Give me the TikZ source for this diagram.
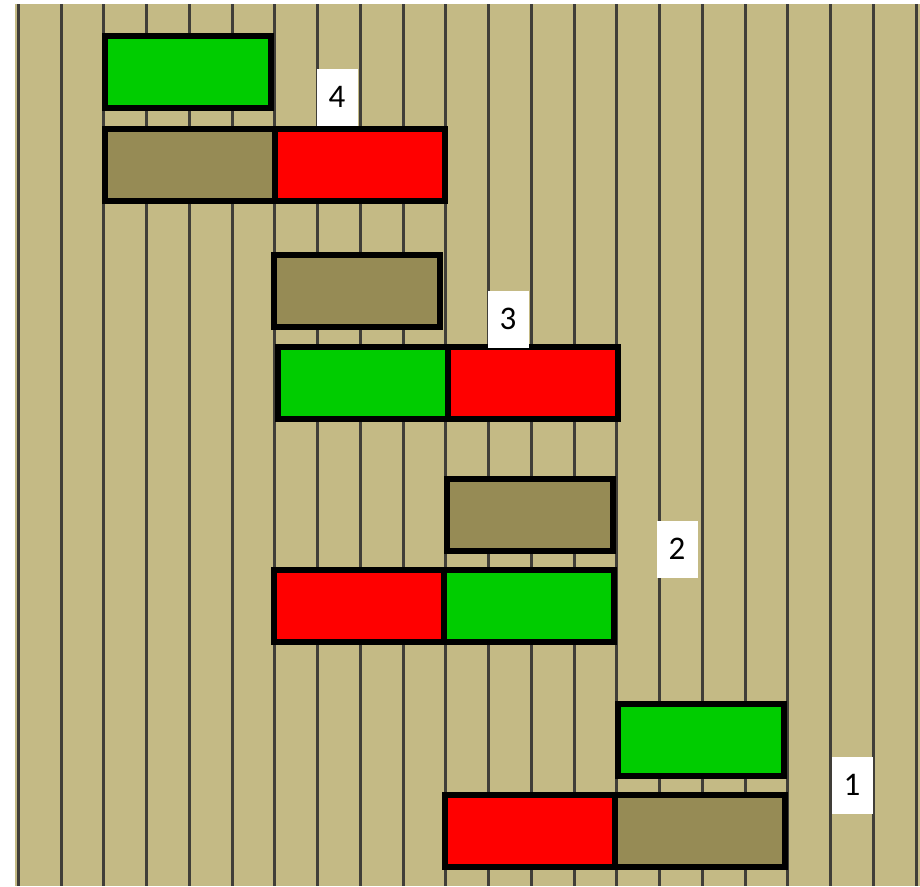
\documentclass[tikz,border=0pt]{standalone}
\usepackage{fontspec}
\usetikzlibrary{positioning}
\setmainfont{Carlito}
\definecolor{boardtan}{RGB}{196,186,133}
\definecolor{boardline}{RGB}{64,62,56}
\definecolor{olivebox}{RGB}{150,139,85}
\definecolor{greenbox}{RGB}{0,204,0}
\definecolor{redbox}{RGB}{255,0,0}
\begin{document}
\begin{tikzpicture}[x=1pt, y=-1pt,
    blk/.style={draw=black, line width=6pt, minimum width=170pt, minimum height=72pt, inner sep=0pt, outer sep=0pt},
    single/.style={minimum width=166pt},
    oblk/.style={blk, fill=olivebox},
    gblk/.style={blk, fill=greenbox},
    rblk/.style={blk, fill=redbox},
    num/.style={fill=white, minimum width=41pt, minimum height=57pt, inner sep=0pt, font=\fontsize{33}{40}\selectfont}]
    \useasboundingbox (0,0) rectangle (920,886);
    % board
    \fill[boardtan] (15,4) rectangle (920,886);
    \foreach \k in {0,...,21}
        \draw[boardline, line width=3pt] ({18.3+42.75*\k},4) -- ({18.3+42.75*\k},886);
    % step 4
    \node[gblk, single] (g4) at (188,71.5) {};
    \node[oblk] (o4) at (190,164.5) {};
    \node[rblk, right=0pt of o4] (r4) {};
    \node[num] (n4) at (337,97) {4};
    % step 3
    \node[oblk, single] (o3) at (357,291) {};
    \node[gblk] (g3) at (363,383) {};
    \node[rblk, right=0pt of g3] (r3) {};
    \node[num] (n3) at (508,319) {3};
    % step 2
    \node[oblk, single] (o2) at (530,515) {};
    \node[rblk] (r2) at (359,605.5) {};
    \node[gblk, right=0pt of r2] (g2) {};
    \node[num] (n2) at (677,549) {2};
    % step 1
    \node[gblk, single] (g1) at (701,739.5) {};
    \node[rblk] (r1) at (530,830.5) {};
    \node[oblk, right=0pt of r1] (o1) {};
    \node[num] (n1) at (852,785) {1};
\end{tikzpicture}
\end{document}
